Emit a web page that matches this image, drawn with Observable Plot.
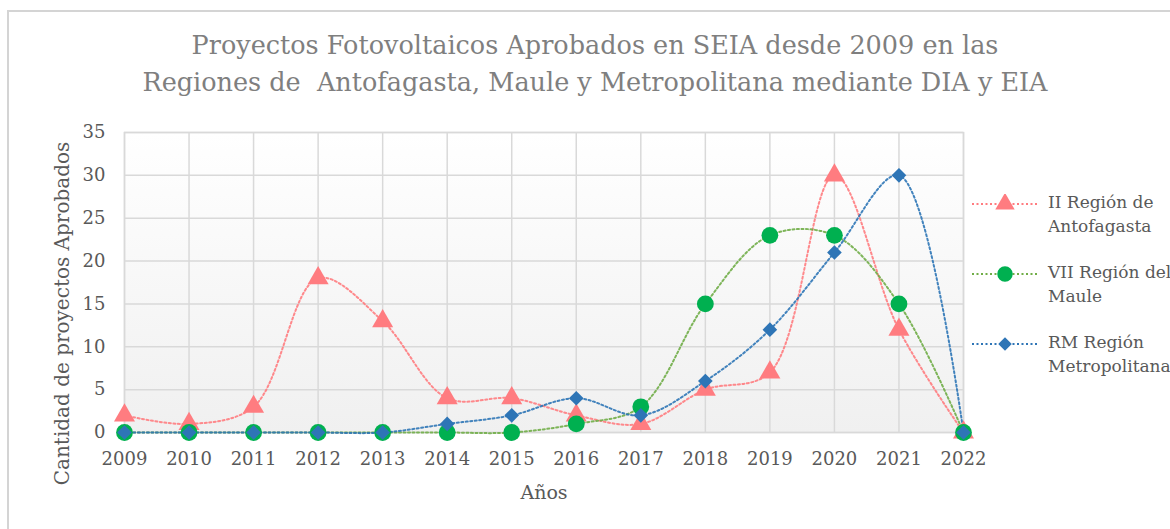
<!DOCTYPE html>
<html><head><meta charset="utf-8">
<script src="https://cdn.jsdelivr.net/npm/d3@7"></script>
<script src="https://cdn.jsdelivr.net/npm/@observablehq/plot@0.6"></script>
<style>
body{margin:0;background:#fff;}
#c{position:relative;width:1170px;height:529px;overflow:hidden;font-family:"DejaVu Serif",serif;}
#border{position:absolute;left:7px;top:10px;width:1300px;height:700px;border:2px solid #d4d4d4;box-sizing:border-box;}
#chart{position:absolute;left:0;top:0;}
#title{position:absolute;top:27px;left:0;width:1190px;text-align:center;font-size:25.5px;line-height:37px;color:#7f7f7f;white-space:nowrap;}
#legend{position:absolute;left:970px;top:190px;font-size:17px;line-height:24px;color:#595959;white-space:nowrap;}
.item{position:relative;height:70px;padding-left:78px;}
.item svg{position:absolute;left:0;top:4px;}
</style></head>
<body><div id="c"><div id="border"></div><div id="chart"></div><div id="title"></div><div id="legend"></div></div>
<script>
const years = [2009,2010,2011,2012,2013,2014,2015,2016,2017,2018,2019,2020,2021,2022];
const antofagasta = [2,1,3,18,13,4,4,2,1,5,7,30,12,0];
const maule = [0,0,0,0,0,0,0,1,3,15,23,23,15,0];
const metropolitana = [0,0,0,0,0,1,2,4,2,6,12,21,30,0];
const seriesNames = ["II Región de Antofagasta","VII Región del Maule","RM Región Metropolitana"];
const legendLines = [["II Región de","Antofagasta"],["VII Región del","Maule"],["RM Región","Metropolitana"]];
const yTicks = [0,5,10,15,20,25,30,35];
const titleLines = ["Proyectos Fotovoltaicos Aprobados en SEIA desde 2009 en las","Regiones de\u00a0 Antofagasta, Maule y Metropolitana mediante DIA y EIA"];
const xTitle = "Años";
const yTitle = "Cantidad de proyectos Aprobados";

const lineColors = ["#ff7c80","#70ad47","#2e75b6"];
const markColors = ["#ff7c80","#00b050","#2e75b6"];
const symbols = ["triangle","circle","diamond2"];
const radii = [7.8,8.4,6.6];
const seriesValues = [antofagasta, maule, metropolitana];

const rows = seriesValues.map((vals,s)=>years.map((yr,i)=>({year:yr,value:vals[i],series:seriesNames[s]})));

const marks = [
  Plot.frame({fill:"url(#bgGrad)", stroke:"none"}),
  Plot.ruleX(years,{stroke:"#d9d9d9",strokeWidth:1.5}),
  Plot.ruleY(yTicks,{stroke:"#d9d9d9",strokeWidth:1.5}),
  Plot.frame({stroke:"#d9d9d9",strokeWidth:1.5}),
  Plot.axisX({ticks:years,tickFormat:d=>String(d),tickSize:0,tickPadding:20,label:null,fontSize:18}),
  Plot.axisY({ticks:yTicks,tickSize:0,tickPadding:19,label:null,fontSize:18}),
  Plot.text([xTitle],{frameAnchor:"bottom",dy:66,fontSize:19,fill:"#595959"}),
  Plot.text([yTitle],{frameAnchor:"left",textAnchor:"middle",dx:-62,dy:31,rotate:-90,fontSize:20,fill:"#595959"})
];
rows.forEach((data,s)=>{
  marks.push(Plot.line(data,{x:"year",y:"value",curve:"catmull-rom",stroke:lineColors[s],strokeWidth:2,strokeDasharray:"2 2.5",strokeOpacity:0.9}));
});
rows.forEach((data,s)=>{
  marks.push(Plot.dot(data,{x:"year",y:"value",symbol:symbols[s],r:radii[s],fill:markColors[s],stroke:"none"}));
});

const plot = Plot.plot({
  width:1170,height:529,
  marginLeft:124,marginRight:207,marginTop:132,marginBottom:97,
  x:{domain:[2009,2022]},
  y:{domain:[0,35]},
  style:{fontFamily:"'DejaVu Serif',serif",fontSize:"18px",color:"#595959",background:"transparent",overflow:"visible"},
  marks
});
const svg = d3.select(plot);
const defs = svg.insert("defs",":first-child");
const grad = defs.append("linearGradient").attr("id","bgGrad").attr("x1",0).attr("y1",0).attr("x2",0).attr("y2",1);
grad.append("stop").attr("offset","0%").attr("stop-color","#ffffff");
grad.append("stop").attr("offset","100%").attr("stop-color","#f0f0f0");
document.getElementById("chart").appendChild(plot);

document.getElementById("title").innerHTML = titleLines.join("<br>");

const legend = d3.select("#legend");
seriesNames.forEach((name,s)=>{
  const item = legend.append("div").attr("class","item");
  const sw = item.append("svg").attr("width",70).attr("height",20);
  sw.append("line").attr("x1",2).attr("x2",68).attr("y1",10).attr("y2",10)
    .attr("stroke",lineColors[s]).attr("stroke-width",2).attr("stroke-dasharray","2 2.5");
  const sym = d3.symbol().type([d3.symbolTriangle,d3.symbolCircle,d3.symbolDiamond2][s]).size(Math.PI*radii[s]*radii[s]*0.85);
  sw.append("path").attr("d",sym()).attr("transform","translate(35,10)").attr("fill",markColors[s]);
  item.append("div").html(legendLines[s].join("<br>"));
});
</script>
</body></html>
